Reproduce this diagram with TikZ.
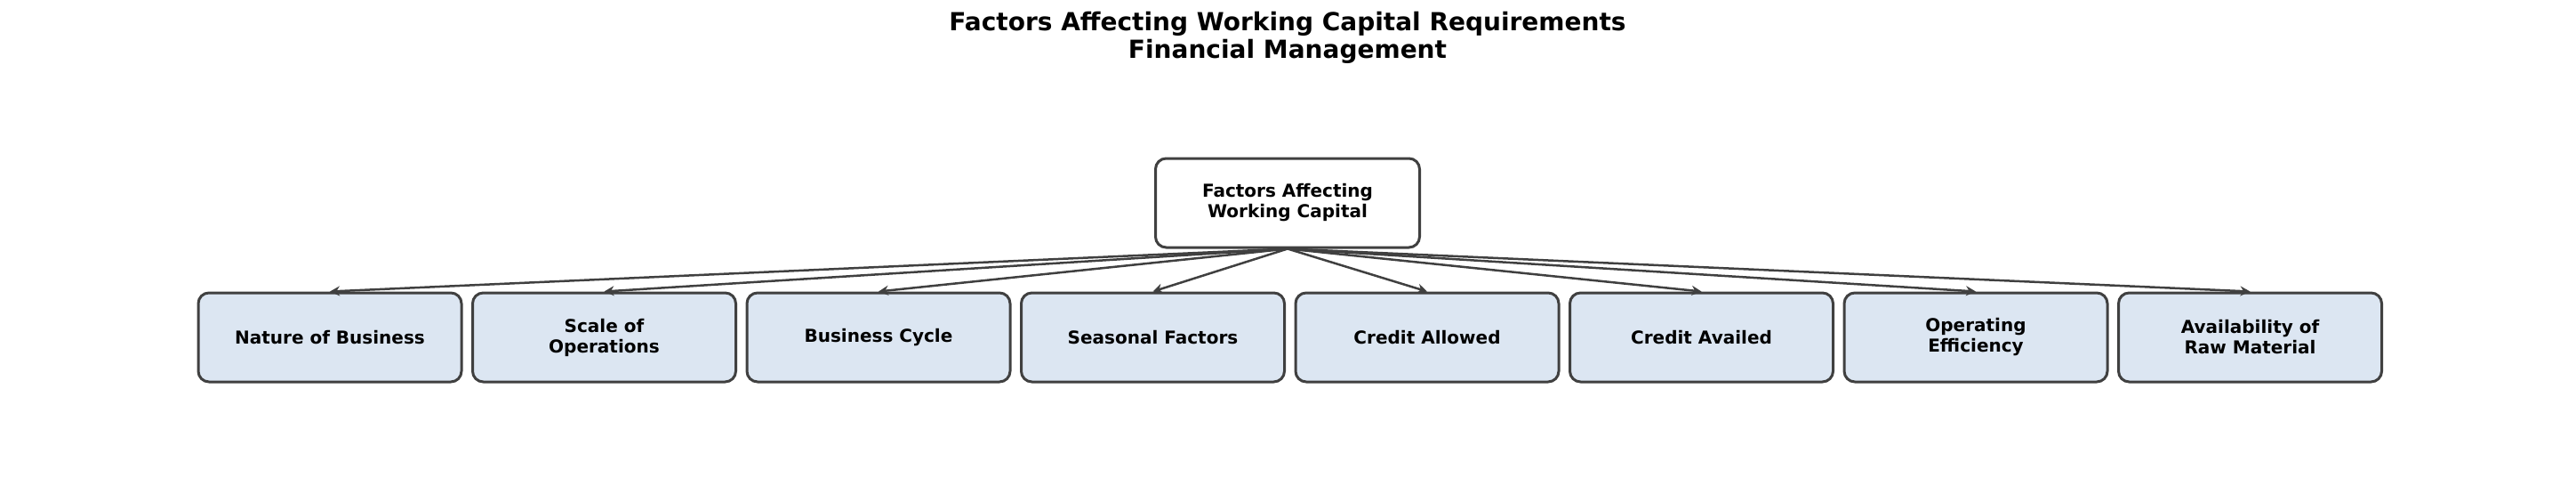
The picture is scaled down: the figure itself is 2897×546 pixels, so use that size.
\documentclass[tikz,border=0pt]{standalone}
\usepackage{fontspec}
\setmainfont{DejaVu Sans}
\usetikzlibrary{arrows.meta}
\definecolor{edge}{HTML}{404040}
\definecolor{boxfill}{HTML}{DCE6F2}
\begin{document}
\begin{tikzpicture}[x=1pt,y=-1pt,
  base/.style={draw=edge,line width=3pt,rounded corners=12pt,minimum width=296pt,minimum height=100pt,align=center,font=\fontsize{20}{23}\selectfont\bfseries,inner sep=0pt},
  rootbox/.style={base,fill=white,minimum width=297pt},
  childbox/.style={base,fill=boxfill},
  conn/.style={draw=edge,line width=2.5pt,-{Stealth[length=11pt,width=11pt]}}]
\useasboundingbox (0,0) rectangle (2897,546);
\node[font=\fontsize{28}{31}\selectfont\bfseries,align=center] (title) at (1448,42) {Factors Affecting Working Capital Requirements\\Financial Management};
\node[rootbox] (root) at (1448,228) {Factors Affecting\\Working Capital};
\foreach \i/\t in {0/Nature of Business,1/Scale of\\Operations,2/Business Cycle,3/Seasonal Factors,4/Credit Allowed,5/Credit Availed,6/Operating\\Efficiency,7/Availability of\\Raw Material}{
  \node[childbox] (c\i) at (371+308.5*\i,379) {\t};
  \draw[conn] (root.south) -- (c\i.north);
}
\end{tikzpicture}
\end{document}
